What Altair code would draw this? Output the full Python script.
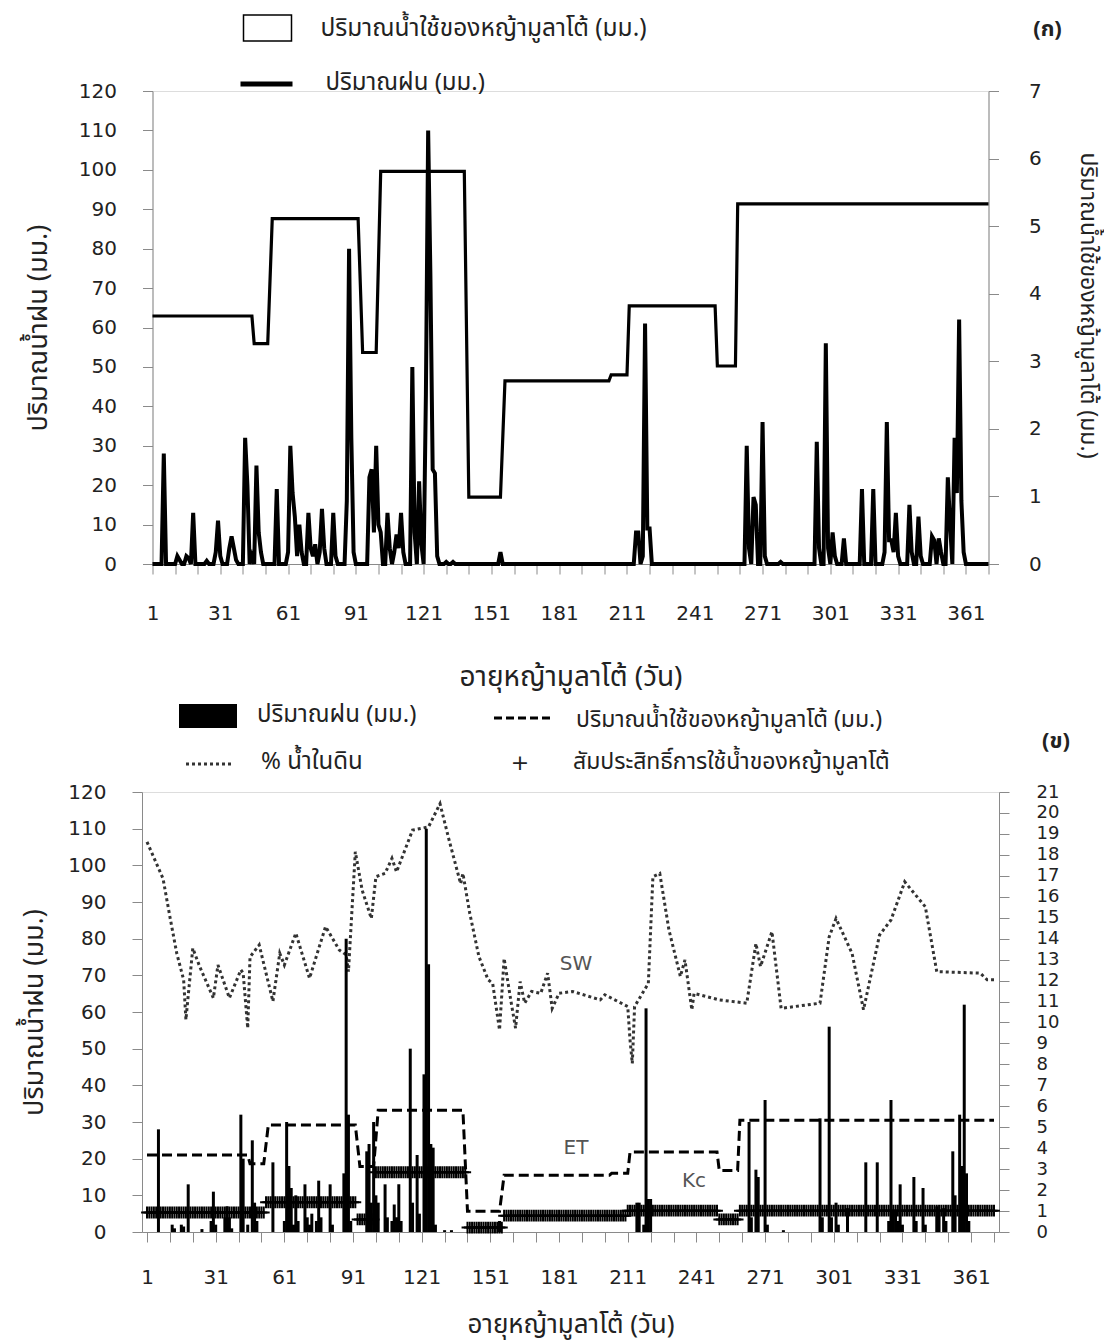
import altair as alt
import pandas as pd

# ---------------- data ----------------
DAY_MIN, DAY_MAX = 1, 371

# daily rainfall (mm); days not listed had no rain
rain_day = [6, 12, 13, 16, 17, 19, 25, 29, 30, 31, 35, 36, 37, 38, 42, 43, 45, 47, 48, 49,
            56, 61, 62, 63, 64, 65, 66, 67, 70, 71, 72, 73, 75, 76, 77, 81, 82, 87, 88, 89,
            90, 97, 98, 99, 100, 101, 102, 105, 106, 108, 109, 110, 111, 112, 116, 117, 119, 120, 122, 123,
            124, 125, 126, 127, 131, 134, 155, 215, 216, 218, 219, 220, 221, 264, 265, 267, 268, 271, 272, 279,
            295, 296, 299, 300, 302, 303, 307, 315, 320, 325, 326, 327, 328, 329, 330, 331, 336, 337, 340, 341,
            346, 347, 349, 350, 353, 354, 356, 357, 358, 359, 360]
rain_mm = [28, 2, 1, 2, 1.5, 13, 0.8, 3, 11, 2, 4, 7, 4, 1, 32, 20, 2, 25, 8, 3,
           19, 3, 30, 18, 12, 2, 10, 3, 13, 4, 2, 5, 3, 14, 4, 13, 2, 16, 80, 32,
           3, 22, 24, 8, 30, 10, 8, 13, 4, 3, 7.5, 4, 13, 3, 50, 8, 21, 5, 43, 110,
           73, 24, 23, 2, 0.5, 0.5, 3, 8, 8, 2, 61, 9, 9, 30, 4, 17, 15, 36, 2, 0.5,
           31, 4, 56, 4, 8, 2, 6.5, 19, 19, 3, 36, 6, 6, 3, 13, 2, 15, 3, 12, 2,
           7, 6, 6.5, 3, 22, 10, 32, 18, 62, 16, 3]

# crop water use (ET, mm/day) - stepwise periods
et_start = [1, 46, 54, 94, 102, 141, 157, 204, 212, 251, 260]
et_end = [45, 52, 92, 100, 139, 155, 203, 211, 250, 259, 371]
et_mm = [3.67, 3.26, 5.11, 3.13, 5.81, 0.99, 2.71, 2.80, 3.82, 2.93, 5.33]

# crop coefficient (Kc) - stepwise periods
kc_start = [1, 53, 93, 101, 141, 157, 211, 251, 260]
kc_end = [52, 92, 100, 140, 156, 210, 250, 259, 371]
kc_val = [0.93, 1.42, 0.60, 2.85, 0.21, 0.78, 1.02, 0.60, 1.02]

# soil water (%)
sw_day = [1, 8, 11, 14, 17, 18, 21, 24, 30, 32, 37, 42, 43, 45, 46, 50, 56, 59, 61, 66,
          72, 79, 85, 88, 89, 92, 95, 99, 101, 105, 108, 110, 117, 124, 129, 133, 138, 139, 142, 146,
          150, 152, 155, 157, 160, 162, 164, 166, 169, 173, 176, 178, 181, 187, 199, 201, 211, 212, 213, 214,
          220, 222, 225, 229, 234, 236, 239, 240, 251, 263, 267, 269, 274, 278, 295, 299, 302, 309, 314, 321,
          326, 332, 341, 346, 365, 368, 371]
sw_pct = [106.4, 96.4, 86, 76, 68.8, 57.9, 77.4, 72.4, 63.8, 72.8, 63.8, 71.5, 70.6, 55.6, 75, 78.3, 62.9, 76, 72.8, 81.5,
          69.2, 83.3, 76.9, 75.6, 71, 103.7, 93.2, 85.5, 96.9, 97.8, 101.9, 98.2, 109.6, 110.5, 116.8, 106.8, 95, 97.8, 86.9, 75.1,
          68.8, 67.8, 55.1, 74.6, 62.9, 55.6, 68.3, 62.4, 65.6, 65.1, 70.6, 61, 65.1, 65.6, 63.3, 64.7, 61.5, 52.4, 46, 61.5,
          67.8, 96.9, 97.8, 82.4, 69.7, 74.2, 60.6, 65.1, 63.3, 62.4, 78.7, 72.4, 81.9, 61, 62.4, 80.5, 85.5, 76, 60.6, 81,
          85.1, 95.5, 88.7, 71, 70.6, 68.8, 68.8]

# text
T_X = "อายุหญ้ามูลาโต้ (วัน)"
T_RAIN = "ปริมาณน้ำฝน (มม.)"
T_USE = "ปริมาณน้ำใช้ของหญ้ามูลาโต้ (มม.)"
L_RAIN = "ปริมาณฝน (มม.)"
L_SW = "% น้ำในดิน"
L_KC = "สัมประสิทธิ์การใช้น้ำของหญ้ามูลาโต้"
TAG_A = "(ก)"
TAG_B = "(ข)"

# ---------------- tables ----------------
rain_lookup = dict(zip(rain_day, rain_mm))
rain_line_df = pd.DataFrame({"day": list(range(DAY_MIN, DAY_MAX + 1)),
                             "mm": [rain_lookup.get(d, 0) for d in range(DAY_MIN, DAY_MAX + 1)]})
rain_bar_df = pd.DataFrame({"day": rain_day, "mm": rain_mm})
et_rows = []
for s, e, v in zip(et_start, et_end, et_mm):
    et_rows += [{"day": s, "et": v}, {"day": e, "et": v}]
et_df = pd.DataFrame(et_rows)
kc_rows = []
for s, e, v in zip(kc_start, kc_end, kc_val):
    kc_rows += [{"day": d, "kc": v} for d in range(s, e + 1)]
kc_df = pd.DataFrame(kc_rows)
sw_df = pd.DataFrame({"day": sw_day, "sw": sw_pct})
one = pd.DataFrame({"k": [0]})

# ---------------- style ----------------
THAI = "Noto Sans Thai, Noto Sans Thai UI, Loma, Garuda, Tlwg Typo, sans-serif"
NUM = "DejaVu Sans, Verdana, sans-serif"
AX = "#8a8a8a"
TXT = "#222222"

W1, H1 = 836, 473
W2, H2 = 857, 440


def x_enc(title, lpad, tpad, tsize):
    return alt.X("day:Q",
                 scale=alt.Scale(domain=[DAY_MIN, DAY_MAX], nice=False, zero=False),
                 axis=alt.Axis(values=list(range(DAY_MIN, DAY_MAX + 1, 10)),
                               labelExpr="(datum.value - 1) % 30 == 0 ? datum.label : ''",
                               labelOverlap=False, labelFlush=False,
                               title=title, titleFont=THAI, titleFontSize=tsize, titleFontWeight="normal",
                               titleColor=TXT, titlePadding=tpad,
                               labelFont=NUM, labelFontSize=20, labelColor=TXT, labelPadding=lpad,
                               tickSize=10, tickColor=AX, domainColor=AX, grid=False))


def y_axis(orient, values, title, lpad, tpad, tsize, lsize=20, title_y=None):
    kw = {}
    if title_y is not None:
        kw["titleY"] = title_y
    return alt.Axis(orient=orient, values=values, title=title, titleFont=THAI, titleFontSize=tsize,
                    titleFontWeight="normal", titleColor=TXT, titlePadding=tpad,
                    labelFont=NUM, labelFontSize=lsize, labelColor=TXT, labelPadding=lpad,
                    labelOverlap=False, labelFlush=False,
                    tickSize=10, tickColor=AX, domainColor=AX, grid=False, **kw)


def txt(s, x, y, size=24, align="left", bold=False, color=TXT, font=THAI):
    return alt.Chart(one).mark_text(text=s, align=align, baseline="middle", fontSize=size,
                                    font=font, color=color,
                                    fontWeight="bold" if bold else "normal").encode(
        x=alt.value(x), y=alt.value(y))


# ---------------- panel (ก) ----------------
x_top = x_enc(T_X, 29, 40, 28)
rain_line = alt.Chart(rain_line_df).mark_line(color="black", strokeWidth=4).encode(
    x=x_top,
    y=alt.Y("mm:Q", scale=alt.Scale(domain=[0, 120], nice=False),
            axis=y_axis("left", list(range(0, 121, 10)), T_RAIN, 26, 26, 27)))
et_line = alt.Chart(et_df).mark_line(color="black", strokeWidth=3.2).encode(
    x=x_top,
    y=alt.Y("et:Q", scale=alt.Scale(domain=[0, 7], nice=False),
            axis=y_axis("right", list(range(0, 8)), T_USE, 30, 34, 23, title_y=214)))

leg_box = alt.Chart(one).mark_rect(fill="white", stroke="black", strokeWidth=1.5).encode(
    x=alt.value(91), x2=alt.value(139), y=alt.value(-76), y2=alt.value(-50))
leg_line = alt.Chart(one).mark_rule(color="black", strokeWidth=5).encode(
    x=alt.value(88), x2=alt.value(140), y=alt.value(-7))

top = alt.layer(
    rain_line, et_line, leg_box, leg_line,
    txt(T_USE, 168, -62, size=24.5), txt(L_RAIN, 173, -8, size=24),
    txt(TAG_A, 895, -62, size=22, align="center", bold=True)
).resolve_scale(y="independent").properties(width=W1, height=H1)

# ---------------- panel (ข) ----------------
x_bot = x_enc(T_X, 25, 24, 26)
bars = alt.Chart(rain_bar_df).mark_bar(color="black", size=3).encode(
    x=x_bot,
    y=alt.Y("mm:Q", scale=alt.Scale(domain=[0, 120], nice=False),
            axis=y_axis("left", list(range(0, 121, 10)), T_RAIN, 26, 19, 27)))
sw_line = alt.Chart(sw_df).mark_line(color="#333333", strokeWidth=3, strokeDash=[3, 3]).encode(
    x=x_bot, y=alt.Y("sw:Q", scale=alt.Scale(domain=[0, 120], nice=False), axis=None))
et_dash = alt.Chart(et_df).mark_line(color="black", strokeWidth=3, strokeDash=[10, 5]).encode(
    x=x_bot, y=alt.Y("et:Q", scale=alt.Scale(domain=[0, 21], nice=False),
                     axis=y_axis("right", list(range(0, 22)), "", 27, 10, 20, lsize=18)))
kc_pts = alt.Chart(kc_df).mark_point(shape="M-1,0L1,0M0,-1L0,1", size=140, filled=False,
                                     stroke="black", strokeWidth=2, opacity=1).encode(
    x=x_bot, y=alt.Y("kc:Q", scale=alt.Scale(domain=[0, 21], nice=False), axis=None))

leg2_rect = alt.Chart(one).mark_rect(fill="black").encode(
    x=alt.value(37), x2=alt.value(95), y=alt.value(-88), y2=alt.value(-64))
leg2_dash = alt.Chart(one).mark_rule(color="black", strokeWidth=3, strokeDash=[8, 4]).encode(
    x=alt.value(352), x2=alt.value(412), y=alt.value(-74))
leg2_dot = alt.Chart(one).mark_rule(color="#333333", strokeWidth=3, strokeDash=[3, 3]).encode(
    x=alt.value(44), x2=alt.value(89), y=alt.value(-28))

bottom = alt.layer(
    sw_line, et_dash, kc_pts, bars,
    leg2_rect, leg2_dash, leg2_dot,
    txt(L_RAIN, 115, -77, size=24), txt(T_USE, 434, -72, size=23), txt(L_SW, 119, -30, size=24),
    txt("+", 378, -29, size=22, align="center", font=NUM), txt(L_KC, 431, -30, size=23),
    txt(TAG_B, 914, -51, size=22, align="center", bold=True),
    txt("SW", 434, 172, size=20, align="center", color="#555555", font=NUM),
    txt("ET", 434, 356, size=20, align="center", color="#555555", font=NUM),
    txt("Kc", 552, 389, size=20, align="center", color="#555555", font=NUM),
).resolve_scale(y="independent").properties(width=W2, height=H2)

chart = alt.vconcat(top, bottom, spacing=228, center=True, bounds="flush").properties(
    padding={"left": 20, "top": 13, "right": 5, "bottom": 5}
).configure_view(stroke=None).configure(background="white")

chart.save("out.html", embed_options={"renderer": "svg", "actions": False})
